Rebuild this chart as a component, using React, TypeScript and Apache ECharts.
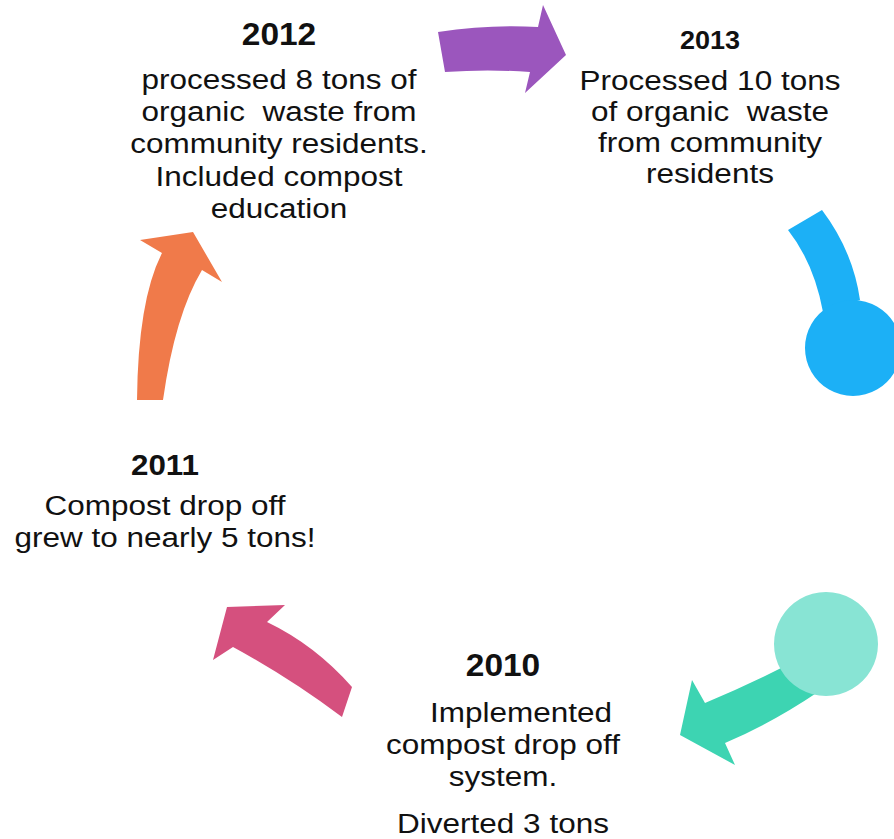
import React, { useEffect, useRef } from 'react';
import * as echarts from 'echarts';

// ---- content ----
const years = ['2012', '2013', '2011', '2010'];
const notes2012 = ['processed 8 tons of', 'organic  waste from', 'community residents.', 'Included compost', 'education'];
const notes2013 = ['Processed 10 tons', 'of organic  waste', 'from community', 'residents'];
const notes2011 = ['Compost drop off', 'grew to nearly 5 tons!'];
const notes2010 = ['Implemented', 'compost drop off', 'system.', 'Diverted 3 tons'];
const blockNotes = [notes2012, notes2013, notes2011, notes2010];

// ---- layout ----
const blockCx = [279, 710, 165, 503];
const headCy = [34, 40, 465, 665];
const headSize = [31, 25, 29, 31];
const lineBaselines = [
  [89, 121, 153, 186, 218],
  [90, 121, 152, 183],
  [515, 547],
  [722, 754, 786, 833],
];
const lineOffsetX = [
  [0, 0, 0, 0, 0],
  [0, 0, 0, 0],
  [0, 0],
  [18, 0, 0, 0],
];
const bodySize = 28;
const bodyStretch = 1.125;

const shapes: { name: string; d: string; color: string }[] = [
  { name: 'arrowPurple', d: 'M438 32 Q490 24 538 27 L543 5 L566 55 L525 93 L530 72 Q488 69 445 72 Z', color: '#9B56BD' },
  { name: 'stemBlue', d: 'M788 230 Q814 263 823 312 L860 300 Q853 251 822 210 Z', color: '#1CB0F6' },
  { name: 'arrowTeal', d: 'M812 652 Q760 680 705 703 L692 680 L680 735 L735 765 L725 743 Q772 723 818 692 Z', color: '#3DD4B2' },
  { name: 'arrowPink', d: 'M227 607 L285 605 L267 622 Q315 645 352 687 L342 717 Q290 678 233 647 L213 660 Z', color: '#D5507E' },
  { name: 'arrowOrange', d: 'M193 232 L222 282 L202 270 Q175 315 163 400 L137 400 Q138 300 162 253 L140 240 Z', color: '#F07A4A' },
];
const circles = [
  { cx: 853, cy: 348, r: 48, color: '#1CB0F6' },
  { cx: 826, cy: 644, r: 52, color: '#88E4D4' },
];

shapes.forEach((s) => {
  echarts.graphic.registerShape(s.name, echarts.graphic.extendPath(s.d, {}) as any);
});

const FONT = '"Liberation Sans", Arial, Helvetica, sans-serif';

export default function App() {
  const ref = useRef<HTMLDivElement>(null);
  useEffect(() => {
    document.body.style.margin = '0';
    if (!ref.current) return;
    const chart = echarts.init(ref.current, null, { renderer: 'svg' });
    const elements: any[] = [];
    shapes.forEach((s) => {
      elements.push({ type: s.name, x: 0, y: 0, style: { fill: s.color } });
    });
    circles.forEach((c) => {
      elements.push({ type: 'circle', shape: { cx: c.cx, cy: c.cy, r: c.r }, style: { fill: c.color } });
    });
    years.forEach((yr, i) => {
      elements.push({
        type: 'text',
        x: blockCx[i],
        y: headCy[i],
        scaleX: 1.08,
        style: {
          text: yr,
          fontSize: headSize[i],
          fontWeight: 'bold',
          fontFamily: FONT,
          fill: '#111',
          align: 'center',
          verticalAlign: 'middle',
        },
      });
      blockNotes[i].forEach((line, j) => {
        elements.push({
          type: 'text',
          x: blockCx[i] + lineOffsetX[i][j],
          y: lineBaselines[i][j] - bodySize * 0.35,
          scaleX: bodyStretch,
          style: {
            text: line,
            fontSize: bodySize,
            fontFamily: FONT,
            fill: '#111',
            align: 'center',
            verticalAlign: 'middle',
          },
        });
      });
    });
    chart.setOption({
      animation: false,
      backgroundColor: '#ffffff',
      graphic: { elements },
    });
    return () => chart.dispose();
  }, []);
  return <div ref={ref} style={{ width: 894, height: 839 }} />;
}
